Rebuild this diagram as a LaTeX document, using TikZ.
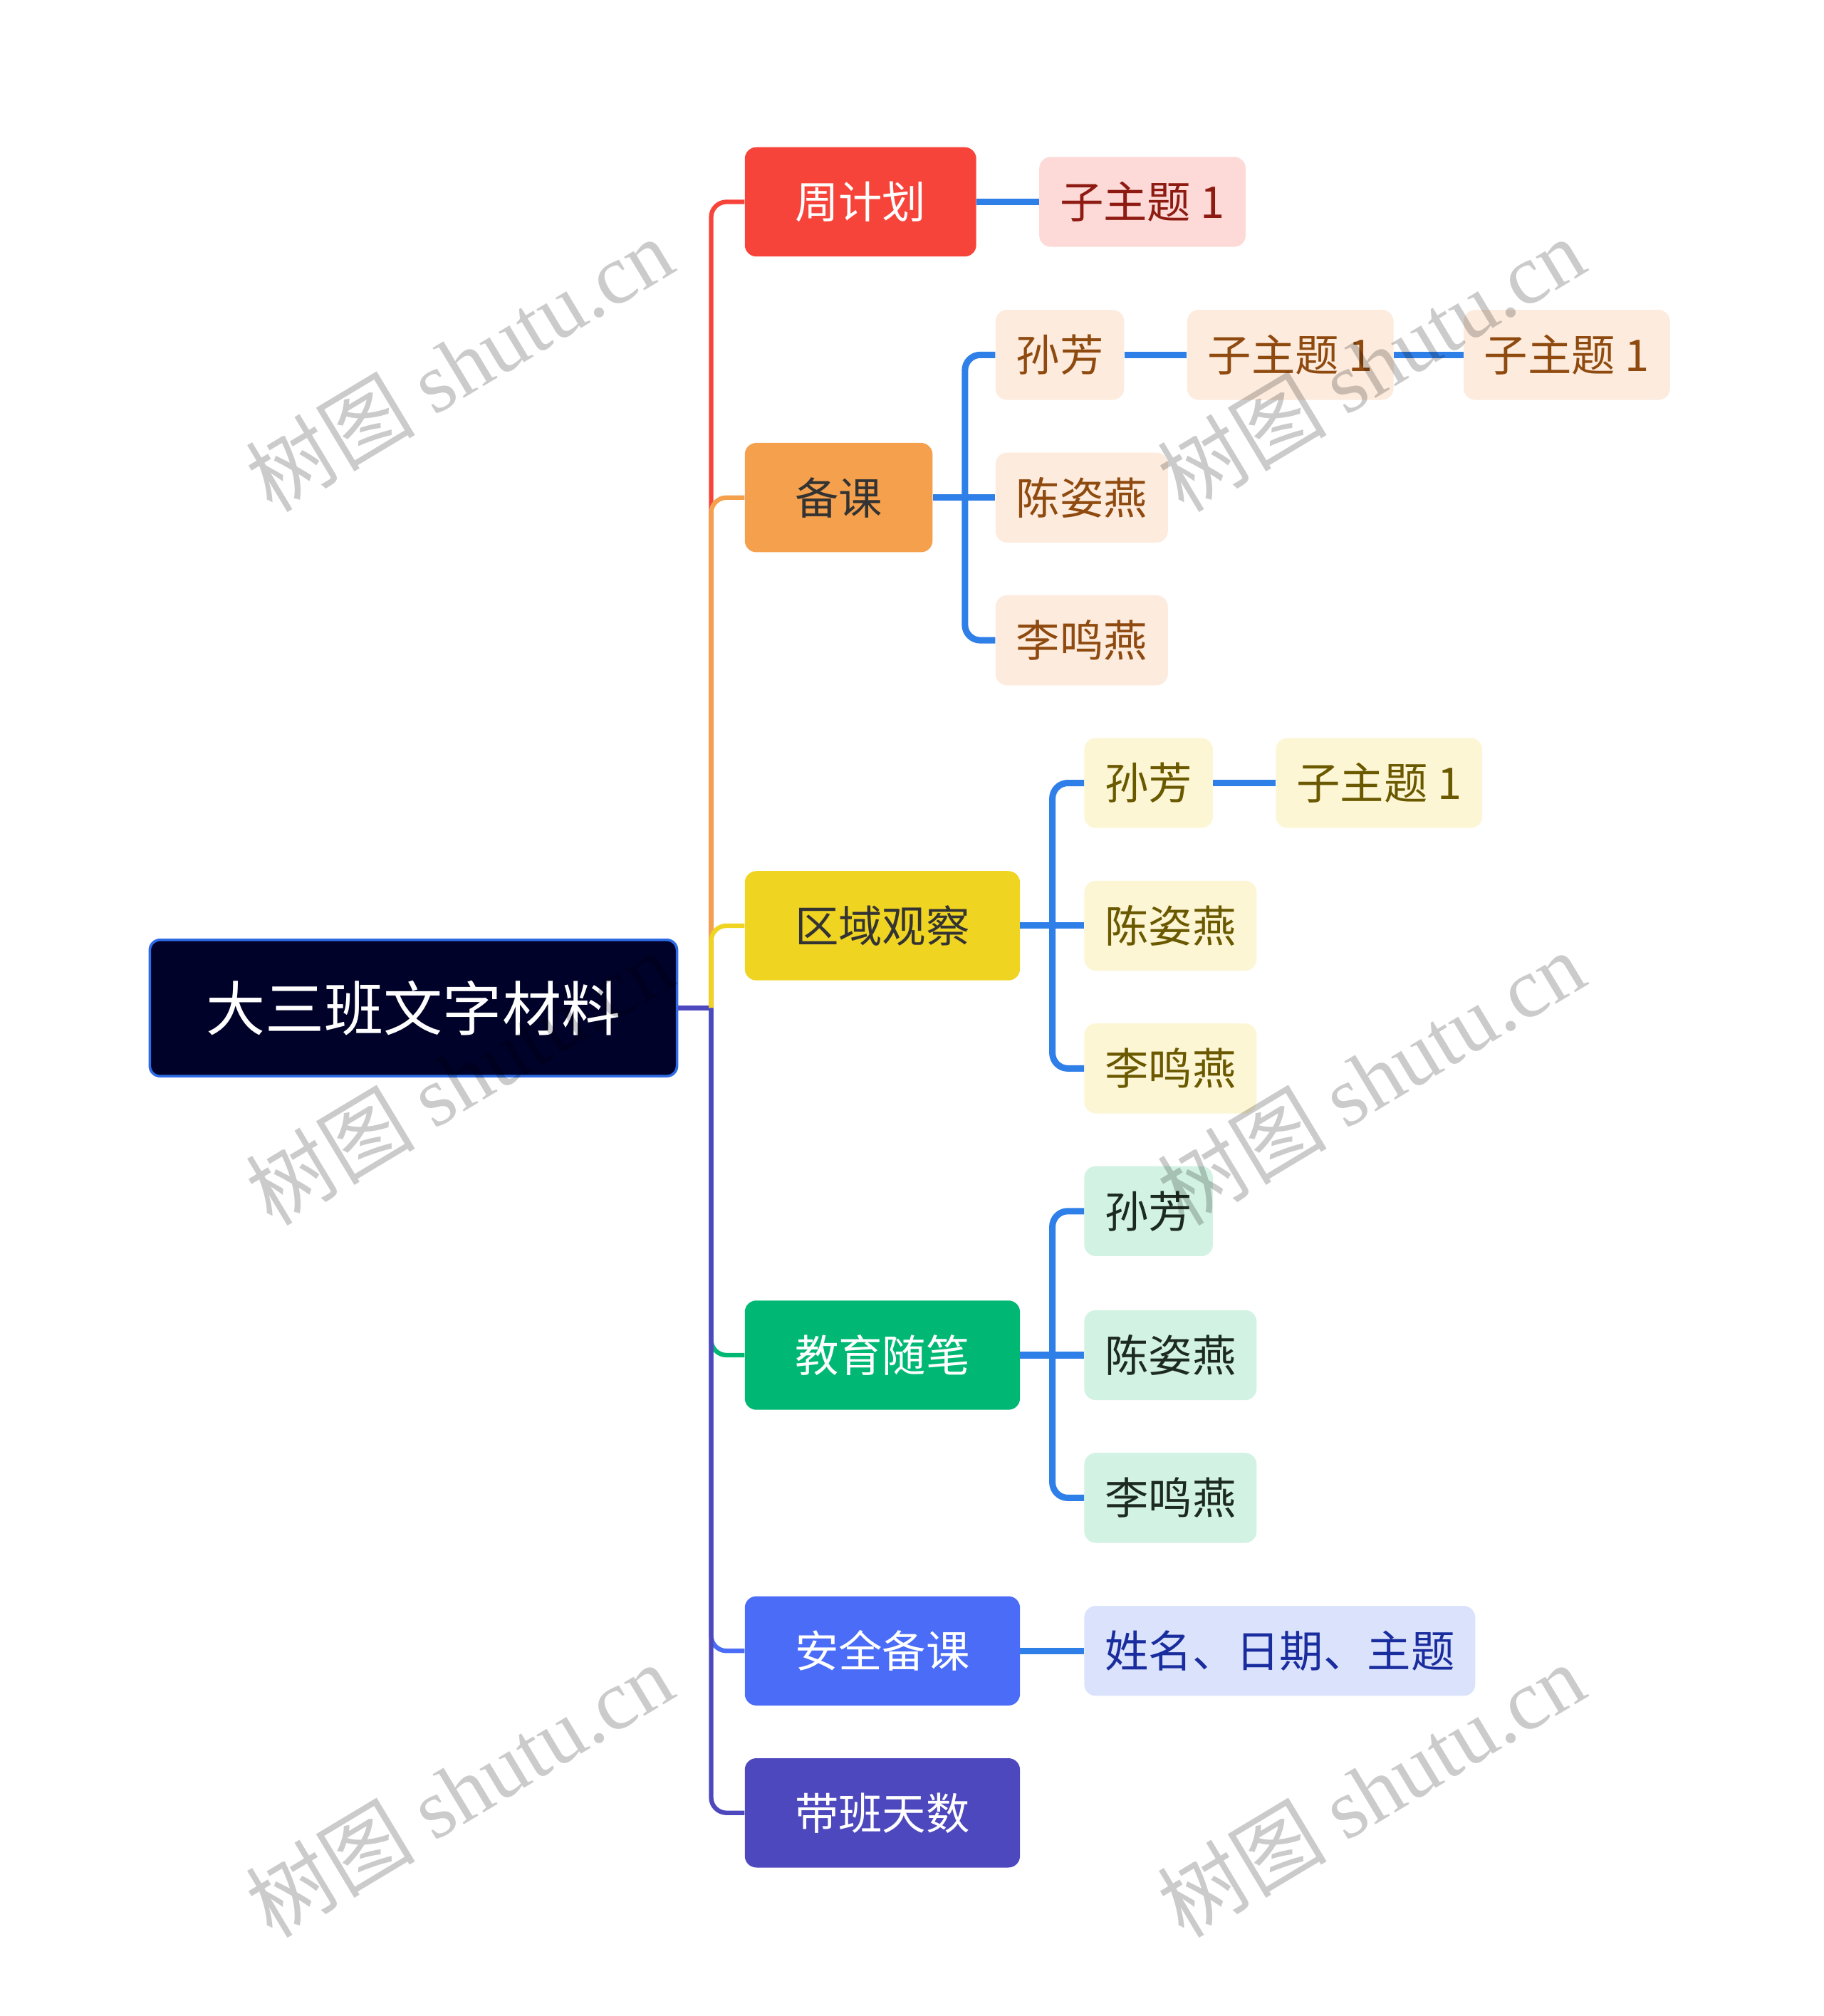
\documentclass[tikz,border=0pt]{standalone}
\usepackage{fontspec}
\setmainfont{Noto Sans CJK SC}
\newfontfamily\wmserif{Liberation Serif}

% Farben
\definecolor{rootfill}{HTML}{000229}
\definecolor{rootrand}{HTML}{2E6CE6}
\definecolor{rot}{HTML}{F7443A}
\definecolor{orange1}{HTML}{F4A04D}
\definecolor{gelb}{HTML}{F0D422}
\definecolor{gruen}{HTML}{00B874}
\definecolor{blau}{HTML}{4A6CF7}
\definecolor{lila}{HTML}{4D48BD}
\definecolor{astblau}{HTML}{2F7FE8}
\definecolor{dunkel}{HTML}{333333}
\definecolor{rotH}{HTML}{FDDAD8}
\definecolor{rotT}{HTML}{8E1B12}
\definecolor{orH}{HTML}{FDEBDD}
\definecolor{orT}{HTML}{8F4A0F}
\definecolor{geH}{HTML}{FCF6D5}
\definecolor{geT}{HTML}{6B5900}
\definecolor{grH}{HTML}{D2F2E3}
\definecolor{grT}{HTML}{1C2A22}
\definecolor{blH}{HTML}{DBE2FC}
\definecolor{blT}{HTML}{1A2D9E}
\definecolor{marke}{HTML}{CBCBCB}

\begin{document}
\begin{tikzpicture}[x=1pt,y=-1pt,
	wurzel/.style={draw=rootrand, line width=2, fill=rootfill, text=white, rounded corners=8,
		minimum height=106, inner xsep=44, inner ysep=0, font=\fontsize{46}{54}\selectfont},
	haupt/.style={rounded corners=9, minimum height=85, inner xsep=39, inner ysep=0, anchor=west,
		font=\fontsize{34}{40}\selectfont},
	kind/.style={rounded corners=9, minimum height=70, inner xsep=16, inner ysep=0, anchor=west,
		font=\fontsize{34}{40}\selectfont},
	zweig/.style={line width=3.5, rounded corners=12},
	ast/.style={line width=5, draw=astblau, rounded corners=12},
	wasser/.style={text=marke, blend mode=multiply, rotate=31, font=\fontsize{66}{74}\selectfont}]
	
	% Rahmen
	\fill[white] (0,0) rectangle (1418,1568);
	\useasboundingbox (0,0) rectangle (1418,1568);
	
	% Wurzel
	\node[wurzel] (root) at (321.5,784) {大三班文字材料};
	\coordinate (stamm) at (553,784);
	
	% Hauptzweige
	\node[haupt, fill=rot, text=white] (wp) at (579,157) {周计划};
	\node[haupt, fill=orange1, text=dunkel] (bk) at (579,387) {备课};
	\node[haupt, fill=gelb, text=dunkel] (qy) at (579,720) {区域观察};
	\node[haupt, fill=gruen, text=white] (jy) at (579,1054) {教育随笔};
	\node[haupt, fill=blau, text=white] (aq) at (579,1284) {安全备课};
	\node[haupt, fill=lila, text=white] (db) at (579,1410) {带班天数};
	
	% Kinder周计划
	\node[kind, fill=rotH, text=rotT] (wp1) at (808,157) {子主题 1};
	
	% Kinder备课
	\node[kind, fill=orH, text=orT] (bk1) at (774,276) {孙芳};
	\node[kind, fill=orH, text=orT] (bk11) at (923,276) {子主题 1};
	\node[kind, fill=orH, text=orT] (bk111) at (1138,276) {子主题 1};
	\node[kind, fill=orH, text=orT] (bk2) at (774,387) {陈姿燕};
	\node[kind, fill=orH, text=orT] (bk3) at (774,498) {李鸣燕};
	
	% Kinder区域观察
	\node[kind, fill=geH, text=geT] (qy1) at (843,609) {孙芳};
	\node[kind, fill=geH, text=geT] (qy11) at (992,609) {子主题 1};
	\node[kind, fill=geH, text=geT] (qy2) at (843,720) {陈姿燕};
	\node[kind, fill=geH, text=geT] (qy3) at (843,831) {李鸣燕};
	
	% Kinder教育随笔
	\node[kind, fill=grH, text=grT] (jy1) at (843,942) {孙芳};
	\node[kind, fill=grH, text=grT] (jy2) at (843,1054) {陈姿燕};
	\node[kind, fill=grH, text=grT] (jy3) at (843,1165) {李鸣燕};
	
	% Kinder安全备课
	\node[kind, fill=blH, text=blT] (aq1) at (843,1284) {姓名、日期、主题};
	
	% Stamm
	\draw[line width=3.5, draw=lila] (root.east) -- (stamm);
	\draw[zweig, draw=rot] (stamm) |- (wp.west);
	\draw[zweig, draw=orange1] (stamm) |- (bk.west);
	\draw[zweig, draw=gelb] (stamm) |- (qy.west);
	\draw[zweig, draw=gruen] (stamm) |- (jy.west);
	\draw[zweig, draw=blau] (stamm) |- (aq.west);
	\draw[zweig, draw=lila] (stamm) |- (db.west);
	
	% Aeste
	\draw[ast] (wp.east) -- (wp1.west);
	
	\path (bk.east) ++(25,0) coordinate (bk-v);
	\draw[ast] (bk.east) -- (bk-v);
	\draw[ast] (bk-v) |- (bk1.west);
	\draw[ast] (bk-v) -- (bk2.west);
	\draw[ast] (bk-v) |- (bk3.west);
	\draw[ast] (bk1.east) -- (bk11.west);
	\draw[ast] (bk11.east) -- (bk111.west);
	
	\path (qy.east) ++(25,0) coordinate (qy-v);
	\draw[ast] (qy.east) -- (qy-v);
	\draw[ast] (qy-v) |- (qy1.west);
	\draw[ast] (qy-v) -- (qy2.west);
	\draw[ast] (qy-v) |- (qy3.west);
	\draw[ast] (qy1.east) -- (qy11.west);
	
	\path (jy.east) ++(25,0) coordinate (jy-v);
	\draw[ast] (jy.east) -- (jy-v);
	\draw[ast] (jy-v) |- (jy1.west);
	\draw[ast] (jy-v) -- (jy2.west);
	\draw[ast] (jy-v) |- (jy3.west);
	
	\draw[ast] (aq.east) -- (aq1.west);
	
	% Wasserzeichen
	\node[wasser] (wm1) at (357,283) {树图 {\wmserif shutu.cn}};
	\node[wasser] (wm2) at (357,838) {树图 {\wmserif shutu.cn}};
	\node[wasser] (wm3) at (357,1392) {树图 {\wmserif shutu.cn}};
	\node[wasser] (wm4) at (1066,283) {树图 {\wmserif shutu.cn}};
	\node[wasser] (wm5) at (1066,838) {树图 {\wmserif shutu.cn}};
	\node[wasser] (wm6) at (1066,1392) {树图 {\wmserif shutu.cn}};
	
\end{tikzpicture}
\end{document}
